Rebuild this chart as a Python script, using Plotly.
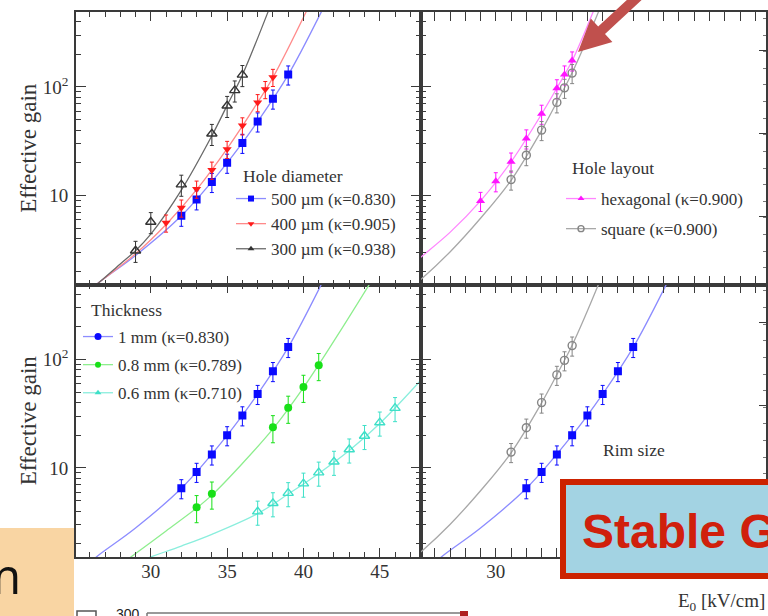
import plotly.graph_objects as go

# ---------------------------------------------------------------
# Effective gain vs drift field E0 [kV/cm] for several hole configs
# ---------------------------------------------------------------
# Hole diameter
E_500um = [32, 33, 34, 35, 36, 37, 38, 39]
G_500um = [6.5, 9.2, 13.3, 20, 30.5, 48, 78, 130]
E_400um = [31, 32, 33, 34, 35, 36, 37, 37.5, 38]
G_400um = [5.6, 7.7, 11.5, 17.2, 26.7, 44, 72, 95, 123]
E_300um = [29, 30, 32, 34, 35, 35.5, 36]
G_300um = [3.1, 5.7, 12.6, 37, 67, 93, 129]
# Hole layout
E_hex = [29, 30, 31, 32, 33, 34, 34.5, 35]
G_hex = [8.9, 13.5, 20.5, 33.5, 56.5, 97, 130, 175]
E_square = [31, 32, 33, 34, 34.5, 35]
G_square = [14, 23.5, 40, 72, 98, 134]
# Thickness
E_08mm = [33, 34, 38, 39, 40, 41]
G_08mm = [4.35, 5.8, 23.7, 35.8, 55.8, 88.5]
E_06mm = [37, 38, 39, 40, 41, 42, 43, 44, 45, 46]
G_06mm = [3.96, 4.73, 5.86, 7.17, 9.06, 11.4, 14.8, 19.7, 26.2, 35.6]

# relative measurement errors [%]
err_500um, err_400um, err_300um = 20, 18, 22
err_hex, err_square = 20, 20
err_08mm, err_06mm = 28, 25

# fitted gain curves, sampled along E0
fit_500um_E = [26.0, 26.7, 29, 32, 35, 37, 39, 41.2, 42.2]
fit_500um_G = [1.35, 1.62, 2.8, 6.5, 20, 48, 129, 500, 980]
fit_400um_E = [26.0, 26.7, 29, 31, 33, 35, 37, 38, 40.2, 41.2]
fit_400um_G = [1.35, 1.62, 2.9, 5.4, 11.3, 27, 72, 122, 500, 1000]
fit_300um_E = [26.0, 26.7, 28, 29, 30, 32, 34, 35, 36, 37.7, 38.5]
fit_300um_G = [1.32, 1.62, 2.34, 3.1, 4.4, 11.2, 35.5, 67.6, 129, 500, 1000]
fit_hex_E = [24.5, 25.1, 27, 29, 31, 33, 34, 35, 36.4, 37]
fit_hex_G = [2.29, 2.71, 4.57, 8.91, 20.4, 56.2, 97.7, 174, 501, 832]
fit_square_E = [24.5, 25.2, 27, 29, 31, 33, 34, 35, 36.75, 37.3]
fit_square_G = [1.45, 1.74, 3.02, 6.17, 13.8, 39.8, 72.4, 135, 501, 794]
fit_08mm_E = [28.0, 28.6, 31, 33, 34, 36, 38, 40, 42, 44.4, 45]
fit_08mm_G = [1.29, 1.48, 2.63, 4.27, 5.62, 11.0, 22.9, 55.0, 148, 513, 708]
fit_06mm_E = [29.0, 29.8, 32, 34, 37, 39, 41, 43, 45, 47.7, 48.5]
fit_06mm_G = [1.33, 1.48, 1.91, 2.45, 3.80, 5.75, 8.91, 14.5, 25.7, 64.6, 87.1]

# legend labels
lab_500um = "500 µm (κ=0.830)"
lab_400um = "400 µm (κ=0.905)"
lab_300um = "300 µm (κ=0.938)"
lab_hex = "hexagonal (κ=0.900)"
lab_square = "square (κ=0.900)"
lab_1mm = "1 mm (κ=0.830)"
lab_08mm = "0.8 mm (κ=0.789)"
lab_06mm = "0.6 mm (κ=0.710)"

x_ticks = [30, 35, 40, 45]
y_ticks = [10, 100]
y_ticktext = ["10", "10<sup>2</sup>"]
y_minor = [2, 3, 4, 5, 6, 7, 8, 9, 20, 30, 40, 50, 60, 70, 80, 90, 200, 300, 400, 500]

# colours
BLUE, BLUE_L = "#0a0aff", "#8c8cff"
RED, RED_L = "#ff1a1a", "#ff8a8a"
BLACK, BLACK_L = "#333333", "#6a6a6a"
MAG, MAG_L = "#ff14ff", "#ff85ff"
GRAY, GRAY_L = "#858585", "#a8a8a8"
GREEN, GREEN_L = "#18e018", "#8eee8e"
CYAN, CYAN_L = "#3ee0c8", "#8aeedd"
AX = "#3a3a3a"
SERIF = "Liberation Serif"

W, H = 768, 616
ML, MR, MT, MB = 76, 2, 12, 59
PW, PH = W - ML - MR, H - MT - MB


def px(x):
    return (x - ML) / PW


def py(y):
    return (H - MB - y) / PH


fig = go.Figure()


def add_fit(E, G, color, xa, ya):
    fig.add_trace(go.Scatter(x=E, y=G, mode="lines",
                             line=dict(color=color, width=1.3, shape="spline"),
                             xaxis=xa, yaxis=ya, showlegend=False, hoverinfo="skip"))


def add_data(E, G, err, symbol, color, size, xa, ya):
    is_open = symbol.endswith("open")
    fig.add_trace(go.Scatter(
        x=E, y=G, mode="markers",
        marker=dict(symbol=symbol, color=color, size=size,
                    line=dict(color=color, width=1.4 if is_open else 0)),
        error_y=dict(type="percent", value=err, color=color, thickness=1.0, width=2),
        xaxis=xa, yaxis=ya, showlegend=False))


def add_key(name, symbol, color, line_color, size, legend, xa, ya):
    is_open = symbol.endswith("open")
    fig.add_trace(go.Scatter(
        x=[None], y=[None], mode="lines+markers", name=name,
        marker=dict(symbol=symbol, color=color, size=size,
                    line=dict(color=color, width=1.4 if is_open else 0)),
        line=dict(color=line_color, width=1.3),
        legend=legend, legendgroup=name, xaxis=xa, yaxis=ya))


# top-left: hole diameter
add_fit(fit_500um_E, fit_500um_G, BLUE_L, "x", "y")
add_fit(fit_400um_E, fit_400um_G, RED_L, "x", "y")
add_fit(fit_300um_E, fit_300um_G, BLACK_L, "x", "y")
add_data(E_500um, G_500um, err_500um, "square", BLUE, 8, "x", "y")
add_data(E_400um, G_400um, err_400um, "triangle-down", RED, 8, "x", "y")
add_data(E_300um, G_300um, err_300um, "triangle-up-open", BLACK, 9, "x", "y")
add_key(lab_500um, "square", BLUE, BLUE_L, 6, "legend", "x", "y")
add_key(lab_400um, "triangle-down", RED, RED_L, 6, "legend", "x", "y")
add_key(lab_300um, "triangle-up", BLACK, BLACK_L, 6, "legend", "x", "y")

# top-right: hole layout
add_fit(fit_hex_E, fit_hex_G, MAG_L, "x2", "y2")
add_fit(fit_square_E, fit_square_G, GRAY_L, "x2", "y2")
add_data(E_hex, G_hex, err_hex, "triangle-up", MAG, 8, "x2", "y2")
add_data(E_square, G_square, err_square, "circle-open", GRAY, 8, "x2", "y2")
add_key(lab_hex, "triangle-up", MAG, MAG_L, 6, "legend2", "x2", "y2")
add_key(lab_square, "circle-open", GRAY, GRAY_L, 6, "legend2", "x2", "y2")

# bottom-left: thickness
add_fit(fit_500um_E, fit_500um_G, BLUE_L, "x3", "y3")
add_fit(fit_08mm_E, fit_08mm_G, GREEN_L, "x3", "y3")
add_fit(fit_06mm_E, fit_06mm_G, CYAN_L, "x3", "y3")
add_data(E_500um, G_500um, err_500um, "square", BLUE, 8, "x3", "y3")
add_data(E_08mm, G_08mm, err_08mm, "circle", GREEN, 8, "x3", "y3")
add_data(E_06mm, G_06mm, err_06mm, "triangle-up-open", CYAN, 9, "x3", "y3")
add_key(lab_1mm, "circle", BLUE, BLUE_L, 7, "legend3", "x3", "y3")
add_key(lab_08mm, "circle", GREEN, GREEN_L, 6, "legend3", "x3", "y3")
add_key(lab_06mm, "triangle-up", CYAN, CYAN_L, 6, "legend3", "x3", "y3")

# bottom-right: rim size
add_fit(fit_square_E, fit_square_G, GRAY_L, "x4", "y4")
add_fit(fit_500um_E, fit_500um_G, BLUE_L, "x4", "y4")
add_data(E_square, G_square, err_square, "circle-open", GRAY, 8, "x4", "y4")
add_data(E_500um, G_500um, err_500um, "square", BLUE, 8, "x4", "y4")

# carriers for the edge scales on the far right
fig.add_trace(go.Scatter(x=[None], y=[None], xaxis="x2", yaxis="y5", showlegend=False))
fig.add_trace(go.Scatter(x=[None], y=[None], xaxis="x4", yaxis="y6", showlegend=False))

tickfont = dict(family=SERIF, size=19, color="#333")


def xaxis(domain, anchor, labels):
    return dict(domain=domain, anchor=anchor, range=[25.1, 47.7],
                tickmode="array", tickvals=x_ticks, showticklabels=labels,
                ticks="inside", ticklen=9, tickwidth=1.3, tickcolor=AX,
                showline=True, linewidth=1.8, linecolor=AX, mirror="allticks",
                showgrid=False, zeroline=False, tickfont=tickfont,
                ticklabelstandoff=-4,
                minor=dict(ticks="inside", ticklen=5, tickwidth=1.1, tickcolor=AX,
                           tick0=25, dtick=1, showgrid=False))


def yaxis(domain, anchor, left):
    d = dict(domain=domain, anchor=anchor, type="log", range=[0.18, 2.69],
             tickmode="array", tickvals=y_ticks, ticktext=y_ticktext,
             showticklabels=left, ticks="inside", ticklen=10, tickwidth=1.3,
             tickcolor=AX, showline=True, linewidth=1.8, linecolor=AX,
             mirror="allticks" if left else True,
             showgrid=False, zeroline=False, tickfont=tickfont,
             ticklabelstandoff=2,
             minor=dict(ticks="inside", ticklen=5, tickwidth=1.1, tickcolor=AX,
                        tickmode="array", tickvals=y_minor, showgrid=False))
    if left:
        d["title"] = dict(text="Effective gain", standoff=0,
                          font=dict(family=SERIF, size=23, color="#333"))
    return d


def edge_axis(over, anchor, domain):
    return dict(overlaying=over, anchor=anchor, side="right", domain=domain,
                range=[0, 3.277], tickmode="linear", tick0=0.819, dtick=1,
                ticks="inside", ticklen=7, tickwidth=1.3, tickcolor=AX,
                showticklabels=False, showline=False, showgrid=False, zeroline=False,
                minor=dict(ticks="inside", ticklen=3, tickwidth=1, tickcolor="#777",
                           dtick=0.2, showgrid=False))


top = [0.5, 1.0]
bot = [0.0, 0.5]
legend_font = dict(family=SERIF, size=17, color="#333")
title_font = dict(family=SERIF, size=17.5, color="#333")


def legend(x, y, gap):
    return dict(x=px(x), y=py(y), xanchor="left", yanchor="top",
                bgcolor="rgba(0,0,0,0)", borderwidth=0, font=legend_font,
                itemwidth=30, traceorder="grouped", tracegroupgap=gap)


def legend_title(text, x, y):
    return dict(text=text, x=px(x), y=py(y), xref="paper", yref="paper",
                xanchor="left", yanchor="middle", showarrow=False, font=title_font)


shapes = [
    # red arrow pointing at the hexagonal curve
    dict(type="path", xref="paper", yref="paper",
         path="M {},{} L {},{} L {},{} L {},{} L {},{} L {},{} L {},{} Z".format(
             px(578), py(52), px(612.4), py(42.1), px(605.0), py(34.0),
             px(648.4), py(-6.3), px(641.6), py(-13.7), px(598.2), py(26.6),
             px(590.8), py(18.5)),
         fillcolor="#C0504D", line=dict(width=0), layer="above"),
    # callout box
    dict(type="rect", xref="paper", yref="paper",
         x0=px(563), x1=px(800), y0=py(576), y1=py(482),
         fillcolor="#A3D3E3", line=dict(color="#CC2200", width=6), layer="above"),
    # peach text block
    dict(type="rect", xref="paper", yref="paper",
         x0=px(-5), x1=px(74), y0=py(630), y1=py(528),
         fillcolor="#F9D5A3", line=dict(width=0), layer="above"),
    # top edge of the next chart
    dict(type="line", xref="paper", yref="paper",
         x0=px(147), x1=px(460), y0=py(613), y1=py(613),
         line=dict(color="#777", width=1.5), layer="above"),
    dict(type="line", xref="paper", yref="paper",
         x0=px(147), x1=px(147), y0=py(613), y1=py(625),
         line=dict(color="#777", width=1.5), layer="above"),
    dict(type="rect", xref="paper", yref="paper",
         x0=px(460), x1=px(468), y0=py(620), y1=py(611),
         fillcolor="#B02020", line=dict(width=0), layer="above"),
    dict(type="rect", xref="paper", yref="paper",
         x0=px(77), x1=px(96), y0=py(622), y1=py(611),
         fillcolor="rgba(0,0,0,0)", line=dict(color="#555", width=1.5), layer="above"),
]

annotations = [
    legend_title("Hole diameter", 241, 176),
    legend_title("Hole layout", 570, 168),
    legend_title("Thickness", 89, 310),
    legend_title("Rim size", 601, 450),
    dict(text="E<sub>0</sub> [kV/cm]", x=px(767), y=py(602), xref="paper", yref="paper",
         xanchor="right", yanchor="middle", showarrow=False,
         font=dict(family=SERIF, size=19, color="#333")),
    dict(text="<b>Stable G</b>", x=px(580), y=py(531), xref="paper", yref="paper",
         xanchor="left", yanchor="middle", showarrow=False,
         font=dict(family="Liberation Sans", size=48, color="#D0200C")),
    dict(text="m", x=px(23), y=py(575), xref="paper", yref="paper",
         xanchor="right", yanchor="middle", showarrow=False,
         font=dict(family="Open Sans", size=50, color="#111")),
    dict(text="300", x=px(128), y=py(614), xref="paper", yref="paper",
         xanchor="center", yanchor="middle", showarrow=False,
         font=dict(family="Liberation Sans", size=14, color="#222")),
]

fig.update_layout(
    width=W, height=H,
    margin=dict(l=ML, r=MR, t=MT, b=MB, pad=0, autoexpand=False),
    paper_bgcolor="white", plot_bgcolor="white",
    xaxis=xaxis([0, 0.5], "y", False),
    yaxis=yaxis(top, "x", True),
    xaxis2=xaxis([0.5, 1], "y2", False),
    yaxis2=yaxis(top, "x2", False),
    xaxis3=xaxis([0, 0.5], "y3", True),
    yaxis3=yaxis(bot, "x3", True),
    xaxis4=xaxis([0.5, 1], "y4", True),
    yaxis4=yaxis(bot, "x4", False),
    yaxis5=edge_axis("y2", "x2", top),
    yaxis6=edge_axis("y4", "x4", bot),
    legend=legend(231, 181, 0),
    legend2=legend(561, 181, 5),
    legend3=legend(78, 319, 3),
    shapes=shapes,
    annotations=annotations,
)

fig.write_html("out.html")
